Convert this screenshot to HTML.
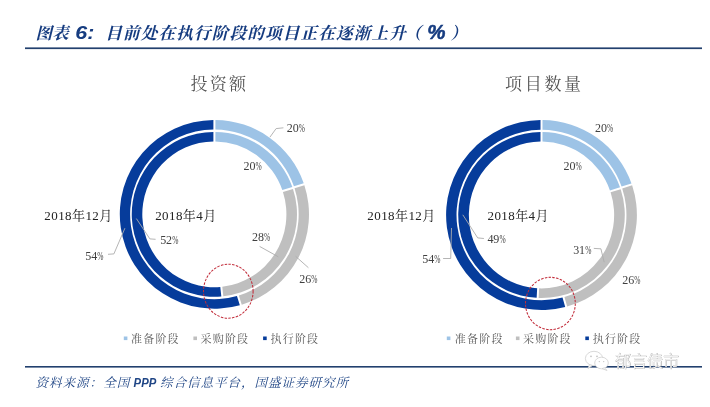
<!DOCTYPE html>
<html lang="zh-CN">
<head>
<meta charset="utf-8">
<title>图表 6</title>
<style>
html,body{margin:0;padding:0;background:#fff;}
body{width:710px;height:407px;overflow:hidden;position:relative;}
svg{position:absolute;left:0;top:0;display:block;}
text{font-family:"Liberation Serif", "Noto Serif CJK SC", serif;}
.ttl{font-weight:bold;font-style:italic;fill:#163c80;font-size:16.6px;}
.ttl .la{font-family:"Liberation Sans", "Noto Sans CJK SC", sans-serif;font-size:18.8px;}
.src{font-style:italic;fill:#1f4585;font-size:12.6px;letter-spacing:0.9px;}
.src .la{font-family:"Liberation Sans", "Noto Sans CJK SC", sans-serif;font-size:12.6px;font-weight:bold;letter-spacing:0;}
.ct{font-size:17px;fill:#555;}
.lg{font-size:11px;fill:#595959;letter-spacing:1.2px;}
.dt{font-size:13px;fill:#222;letter-spacing:0.42px;}
.ld{stroke:#adadad;stroke-width:0.9;fill:none;}
.wm{font-family:"Liberation Sans", "Noto Sans CJK SC", sans-serif;font-size:16px;font-weight:200;}
</style>
</head>
<body>
<svg width="710" height="407" viewBox="0 0 710 407">
<rect width="710" height="407" fill="#fff"/>
<!-- title -->
<text class="ttl" x="35.5" y="39.2">图表</text>
<text class="ttl" transform="translate(75.3 39.2) scale(1.14 1)"><tspan class="la">6:</tspan></text>
<text class="ttl" y="39.2"><tspan x="105.3" letter-spacing="1.15">目前处在执行阶段的项目正在逐渐上升</tspan><tspan x="404.5">（</tspan><tspan class="la" x="427.3" style="font-size:20.5px;stroke:#163c80;stroke-width:0.5px">%</tspan><tspan x="450.5">）</tspan></text>
<rect x="25" y="47.4" width="677" height="1.7" fill="#22406e"/>
<!-- chart titles -->
<text class="ct" x="190.5" y="89.5" letter-spacing="2.2">投资额</text>
<text class="ct" x="505" y="89.5" letter-spacing="2.7">项目数量</text>
<path d="M215.40 119.91 A94.60 94.40 0 0 1 303.73 183.25 L293.93 186.27 A84.25 84.90 0 0 0 215.40 129.41 Z" fill="#9dc3e6"/>
<path d="M304.37 185.14 A94.60 94.40 0 0 1 241.75 304.67 L238.86 295.54 A84.25 84.90 0 0 0 294.56 188.17 Z" fill="#bfbfbf"/>
<path d="M239.83 305.23 A94.60 94.40 0 1 1 213.40 119.91 L213.40 129.41 A84.25 84.90 0 1 0 236.95 296.10 Z" fill="#063c9b"/>
<path d="M215.40 131.91 A82.60 82.40 0 0 1 292.36 187.07 L282.32 190.10 A72.00 72.90 0 0 0 215.39 141.41 Z" fill="#9dc3e6"/>
<path d="M293.00 188.97 A82.60 82.40 0 0 1 223.31 296.22 L222.29 286.76 A72.00 72.90 0 0 0 282.95 192.00 Z" fill="#bfbfbf"/>
<path d="M221.32 296.41 A82.60 82.40 0 1 1 213.40 131.91 L213.41 141.41 A72.00 72.90 0 1 0 220.31 286.95 Z" fill="#063c9b"/>
<path d="M542.50 120.01 A95.40 95.00 0 0 1 631.48 183.44 L621.59 186.61 A84.95 85.15 0 0 0 542.50 129.86 Z" fill="#9dc3e6"/>
<path d="M632.13 185.33 A95.40 95.00 0 0 1 567.16 306.50 L564.45 296.98 A84.95 85.15 0 0 0 622.23 188.51 Z" fill="#bfbfbf"/>
<path d="M565.22 307.02 A95.40 95.00 0 1 1 540.50 120.01 L540.50 129.86 A84.95 85.15 0 1 0 562.52 297.50 Z" fill="#063c9b"/>
<path d="M542.50 132.01 A83.30 83.00 0 0 1 620.03 187.31 L609.95 190.40 A72.65 73.40 0 0 0 542.49 141.61 Z" fill="#9dc3e6"/>
<path d="M620.67 189.20 A83.30 83.00 0 0 1 538.65 297.95 L539.14 288.36 A72.65 73.40 0 0 0 610.59 192.30 Z" fill="#bfbfbf"/>
<path d="M536.65 297.86 A83.30 83.00 0 0 1 540.50 132.01 L540.51 141.61 A72.65 73.40 0 0 0 537.15 288.27 Z" fill="#063c9b"/>
<!-- leaders left -->
<path class="ld" d="M269.9 137.2 L276.1 128.6 L283.4 127.8"/>
<path class="ld" d="M124.9 228.2 L113.9 253.9 L108 254.3"/>
<path class="ld" d="M136.4 218.6 L149.9 238.9 L155.6 239.3"/>
<path class="ld" d="M259.6 246.4 L278.3 256.8"/>
<path class="ld" d="M295.6 256.3 L308.4 267.7"/>
<!-- labels left -->
<text x="286.8" y="132.3" font-size="12" fill="#404040"><tspan letter-spacing="-0.1">20</tspan><tspan x="298.8" font-size="11.8" textLength="6.2" lengthAdjust="spacingAndGlyphs">%</tspan></text>
<text x="243.6" y="169.9" font-size="12" fill="#404040"><tspan letter-spacing="-0.1">20</tspan><tspan x="255.6" font-size="11.8" textLength="6.2" lengthAdjust="spacingAndGlyphs">%</tspan></text>
<text x="160.2" y="243.7" font-size="12" fill="#404040"><tspan letter-spacing="-0.1">52</tspan><tspan x="172.2" font-size="11.8" textLength="6.2" lengthAdjust="spacingAndGlyphs">%</tspan></text>
<text x="85.3" y="259.8" font-size="12" fill="#404040"><tspan letter-spacing="-0.1">54</tspan><tspan x="97.3" font-size="11.8" textLength="6.2" lengthAdjust="spacingAndGlyphs">%</tspan></text>
<text x="252.0" y="241.3" font-size="12" fill="#404040"><tspan letter-spacing="-0.1">28</tspan><tspan x="264.0" font-size="11.8" textLength="6.2" lengthAdjust="spacingAndGlyphs">%</tspan></text>
<text x="299.3" y="282.6" font-size="12" fill="#404040"><tspan letter-spacing="-0.1">26</tspan><tspan x="311.3" font-size="11.8" textLength="6.2" lengthAdjust="spacingAndGlyphs">%</tspan></text>
<text class="dt" x="44.3" y="219.8">2018年12月</text>
<text class="dt" x="155.2" y="219.8">2018年4月</text>
<!-- leaders right -->
<path class="ld" d="M462.8 214.8 L477.7 237.9 L483.9 238.5"/>
<path class="ld" d="M451.5 228 L450.7 258.5 L443.1 258.5"/>
<path class="ld" d="M593.8 248.4 L600.9 248.8 L604.2 262.2"/>
<!-- labels right -->
<text x="595.1" y="131.7" font-size="12" fill="#404040"><tspan letter-spacing="-0.1">20</tspan><tspan x="607.1" font-size="11.8" textLength="6.2" lengthAdjust="spacingAndGlyphs">%</tspan></text>
<text x="563.6" y="169.6" font-size="12" fill="#404040"><tspan letter-spacing="-0.1">20</tspan><tspan x="575.6" font-size="11.8" textLength="6.2" lengthAdjust="spacingAndGlyphs">%</tspan></text>
<text x="487.4" y="243.2" font-size="12" fill="#404040"><tspan letter-spacing="-0.1">49</tspan><tspan x="499.4" font-size="11.8" textLength="6.2" lengthAdjust="spacingAndGlyphs">%</tspan></text>
<text x="422.3" y="263.4" font-size="12" fill="#404040"><tspan letter-spacing="-0.1">54</tspan><tspan x="434.3" font-size="11.8" textLength="6.2" lengthAdjust="spacingAndGlyphs">%</tspan></text>
<text x="573.2" y="253.5" font-size="12" fill="#404040"><tspan letter-spacing="-0.1">31</tspan><tspan x="585.2" font-size="11.8" textLength="6.2" lengthAdjust="spacingAndGlyphs">%</tspan></text>
<text x="622.3" y="284.0" font-size="12" fill="#404040"><tspan letter-spacing="-0.1">26</tspan><tspan x="634.3" font-size="11.8" textLength="6.2" lengthAdjust="spacingAndGlyphs">%</tspan></text>
<text class="dt" x="367.3" y="219.8">2018年12月</text>
<text class="dt" x="487.5" y="219.8">2018年4月</text>
<!-- red circles -->
<ellipse cx="228.3" cy="291.2" rx="24.8" ry="27" fill="none" stroke="#c22c3a" stroke-width="1.05" stroke-dasharray="2.5 1.3"/>
<ellipse cx="550.4" cy="303.5" rx="24.9" ry="26.2" fill="none" stroke="#c22c3a" stroke-width="1.05" stroke-dasharray="2.5 1.3"/>
<!-- legends -->
<rect x="123.8" y="336.5" width="3.6" height="3.6" fill="#9dc3e6"/>
<text class="lg" x="131" y="343.3">准备阶段</text>
<rect x="193.4" y="336.5" width="3.6" height="3.6" fill="#bfbfbf"/>
<text class="lg" x="200.5" y="343.3">采购阶段</text>
<rect x="263.1" y="336.5" width="3.6" height="3.6" fill="#063c9b"/>
<text class="lg" x="270.5" y="343.3">执行阶段</text>
<rect x="446.8" y="336.5" width="3.6" height="3.6" fill="#9dc3e6"/>
<text class="lg" x="454.8" y="343.3">准备阶段</text>
<rect x="515.9" y="336.5" width="3.6" height="3.6" fill="#bfbfbf"/>
<text class="lg" x="523" y="343.3">采购阶段</text>
<rect x="585.3" y="336.5" width="3.6" height="3.6" fill="#063c9b"/>
<text class="lg" x="592.7" y="343.3">执行阶段</text>
<!-- bottom rule and source -->
<rect x="25" y="366" width="677" height="1.6" fill="#22406e"/>
<text class="src" y="386.8"><tspan x="35.5">资料来源：</tspan><tspan x="103.2">全国</tspan><tspan class="la" x="133.6" textLength="22.6" lengthAdjust="spacingAndGlyphs">PPP</tspan><tspan x="160">综合信息平台，国盛证券研究所</tspan></text>
<!-- watermark -->
<g fill="#fff" stroke="#cfcfcf" stroke-width="0.8">
<ellipse cx="594" cy="358.5" rx="8.6" ry="7.2"/>
<path d="M589.5 364.5 L588 368.5 L592.5 365.6 Z"/>
<ellipse cx="601.5" cy="363" rx="6.8" ry="5.8"/>
<path d="M604.5 367.8 L607 370.5 L602 368.6 Z"/>
</g>
<g fill="#c4c4c4"><circle cx="591" cy="356.3" r="0.9"/><circle cx="597" cy="356.3" r="0.9"/><circle cx="599.3" cy="361.6" r="0.7"/><circle cx="603.7" cy="361.6" r="0.7"/></g>
<text class="wm" x="615.3" y="366.8" fill="#b4b4b4" stroke="#b4b4b4" stroke-width="0.75" stroke-linejoin="round">郁言债市</text>
<text class="wm" x="615" y="366.5" fill="#fff">郁言债市</text>
</svg>
</body>
</html>
